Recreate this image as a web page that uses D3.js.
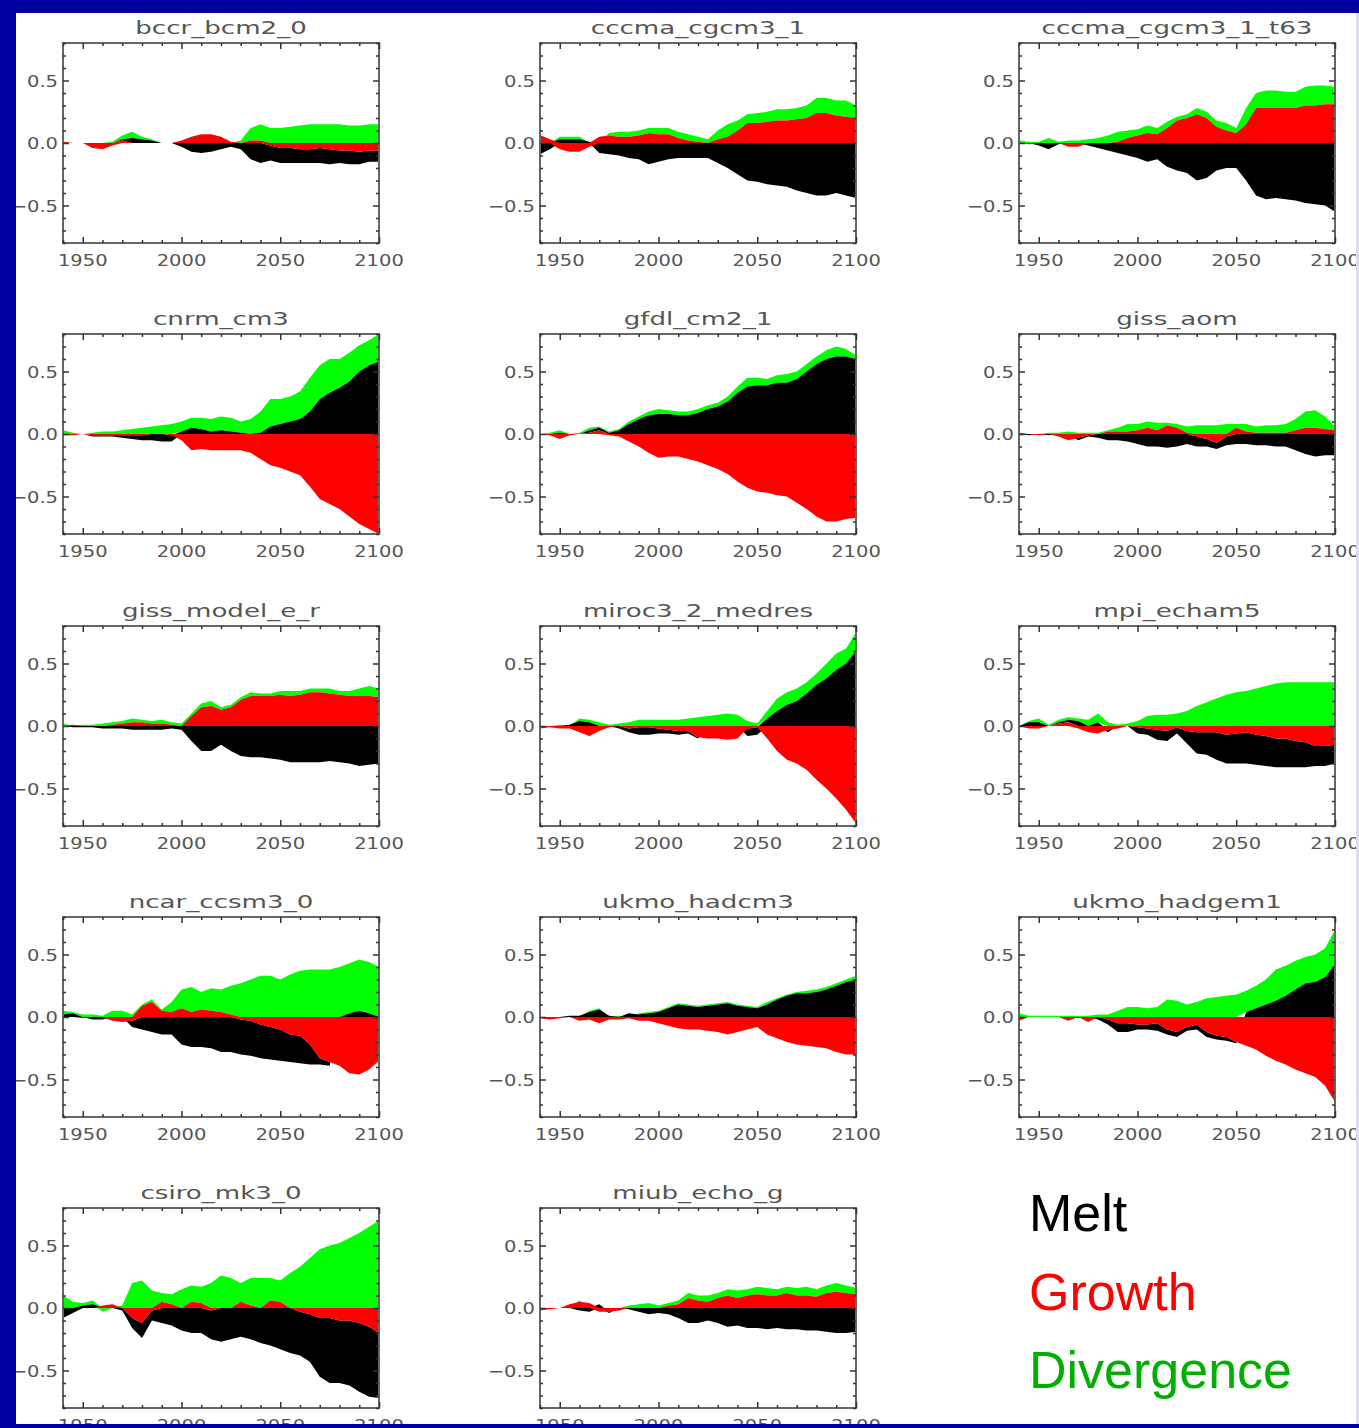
<!DOCTYPE html>
<html lang="en">
<head>
<meta charset="UTF-8">
<title>Ice volume budget terms by model</title>
<style>
  html, body { margin: 0; padding: 0; background: #fff; }
  svg { display: block; }
</style>
</head>
<body>
<svg id="chart"></svg>
<script src="https://d3js.org/d3.v7.min.js"></script>
<script>
const W = 1359, H = 1428;

// one panel per model, read left to right, top to bottom
const models = [
  "bccr_bcm2_0", "cccma_cgcm3_1", "cccma_cgcm3_1_t63",
  "cnrm_cm3", "gfdl_cm2_1", "giss_aom",
  "giss_model_e_r", "miroc3_2_medres", "mpi_echam5",
  "ncar_ccsm3_0", "ukmo_hadcm3", "ukmo_hadgem1",
  "csiro_mk3_0", "miub_echo_g"
];

const years = [1940, 1945, 1950, 1955, 1960, 1965, 1970, 1975, 1980, 1985, 1990,
  1995, 2000, 2005, 2010, 2015, 2020, 2025, 2030, 2035, 2040, 2045, 2050,
  2055, 2060, 2065, 2070, 2075, 2080, 2085, 2090, 2095, 2100];

// band thickness of each term, same order as models
const growth = [
  [0.01,0,0,-0.04,-0.05,-0.02,0.02,0,0,0,0,0,0.02,0.05,0.07,0.07,0.05,0.01,0,0.02,0.02,-0.02,-0.04,-0.04,-0.05,-0.05,-0.04,-0.05,-0.06,-0.06,-0.07,-0.06,-0.06],
  [0.065,0.03,-0.05,-0.07,-0.07,-0.03,0.05,0.06,0.05,0.05,0.06,0.08,0.07,0.07,0.04,0.02,0.01,0,0.03,0.05,0.1,0.16,0.16,0.17,0.18,0.18,0.19,0.2,0.24,0.24,0.22,0.21,0.2],
  [0,-0.01,0,0,0,-0.03,-0.03,0,0,0,0.01,0.04,0.06,0.08,0.07,0.12,0.18,0.2,0.23,0.2,0.13,0.1,0.08,0.15,0.28,0.28,0.28,0.28,0.28,0.3,0.3,0.31,0.31],
  [-0.01,-0.01,0,-0.01,-0.01,-0.01,-0.01,-0.01,-0.01,0,0,-0.01,-0.05,-0.13,-0.12,-0.13,-0.13,-0.13,-0.13,-0.15,-0.2,-0.25,-0.27,-0.3,-0.33,-0.42,-0.52,-0.56,-0.6,-0.66,-0.72,-0.76,-0.8],
  [0,-0.01,-0.04,-0.01,0,0.01,0.03,-0.01,-0.02,-0.06,-0.1,-0.15,-0.19,-0.18,-0.18,-0.2,-0.22,-0.25,-0.28,-0.32,-0.38,-0.43,-0.46,-0.47,-0.49,-0.5,-0.55,-0.6,-0.66,-0.7,-0.7,-0.68,-0.67],
  [0.01,0,-0.01,0,-0.02,-0.05,-0.03,-0.01,0,0.02,0.02,0.02,0.03,0.05,0.03,0.07,0.05,0.01,-0.02,-0.04,-0.07,-0.02,0.05,0.02,0.01,0.01,0.01,0.01,0.03,0.05,0.05,0.04,0.03],
  [0,0.01,0,0,0,0.01,0.02,0.03,0.03,0.02,0.02,0.01,0,0.08,0.15,0.16,0.13,0.15,0.21,0.24,0.24,0.24,0.25,0.24,0.25,0.27,0.27,0.26,0.25,0.24,0.24,0.24,0.23],
  [-0.02,-0.01,-0.02,-0.02,-0.05,-0.08,-0.04,-0.01,0,-0.02,-0.01,-0.01,-0.02,-0.03,-0.04,-0.04,-0.09,-0.1,-0.1,-0.11,-0.1,-0.02,-0.01,-0.1,-0.2,-0.27,-0.3,-0.35,-0.43,-0.5,-0.58,-0.67,-0.78],
  [0,-0.02,-0.02,0,0.02,0.03,-0.02,-0.05,-0.06,-0.03,-0.02,0,-0.01,-0.02,-0.03,-0.04,-0.01,-0.04,-0.05,-0.05,-0.05,-0.07,-0.06,-0.05,-0.07,-0.08,-0.1,-0.1,-0.12,-0.13,-0.16,-0.16,-0.15],
  [0,0,-0.01,0,0,-0.03,-0.04,-0.03,0.09,0.12,0.05,0.04,0.07,0.04,0.06,0.05,0.04,0.02,-0.02,-0.03,-0.06,-0.08,-0.1,-0.14,-0.15,-0.22,-0.33,-0.36,-0.39,-0.45,-0.46,-0.42,-0.35],
  [-0.01,-0.02,-0.01,0,-0.03,-0.02,-0.05,-0.02,-0.02,-0.01,-0.03,-0.03,-0.05,-0.07,-0.09,-0.1,-0.1,-0.11,-0.12,-0.14,-0.12,-0.1,-0.08,-0.14,-0.17,-0.2,-0.22,-0.23,-0.24,-0.25,-0.28,-0.3,-0.3],
  [-0.03,0,0,0,0,-0.03,0,-0.04,0,-0.02,-0.05,-0.05,-0.06,-0.06,-0.05,-0.1,-0.12,-0.08,-0.06,-0.12,-0.15,-0.16,-0.2,-0.23,-0.26,-0.31,-0.35,-0.38,-0.42,-0.45,-0.48,-0.55,-0.68],
  [0,0,0,0,0.02,0.03,0,-0.08,-0.12,-0.02,0.05,0.03,0,0.05,0.04,-0.02,0,0,0.05,0.02,0,0.06,0.05,0,-0.03,-0.05,-0.08,-0.08,-0.1,-0.1,-0.12,-0.15,-0.2],
  [-0.02,-0.01,0,0.03,0.05,0.04,-0.03,-0.03,-0.02,0,0,0,0,0.02,0.03,0.08,0.06,0.05,0.08,0.1,0.08,0.1,0.11,0.1,0.1,0.12,0.1,0.1,0.09,0.12,0.13,0.12,0.11]
];

const melt = [
  [0,0,0,0,0,0,0.01,0.04,0.03,0.02,0,0,-0.03,-0.07,-0.08,-0.07,-0.05,-0.03,-0.05,-0.13,-0.16,-0.12,-0.12,-0.12,-0.11,-0.11,-0.12,-0.12,-0.1,-0.11,-0.1,-0.09,-0.09],
  [-0.09,-0.05,0.03,0.03,0.03,0.01,-0.08,-0.09,-0.1,-0.12,-0.13,-0.17,-0.15,-0.13,-0.12,-0.12,-0.12,-0.12,-0.16,-0.2,-0.25,-0.3,-0.31,-0.33,-0.34,-0.35,-0.38,-0.4,-0.42,-0.42,-0.4,-0.42,-0.44],
  [0,0,-0.02,-0.05,-0.01,0,0,-0.02,-0.04,-0.06,-0.08,-0.1,-0.12,-0.15,-0.13,-0.19,-0.22,-0.24,-0.3,-0.28,-0.22,-0.2,-0.2,-0.3,-0.42,-0.45,-0.44,-0.45,-0.46,-0.48,-0.49,-0.5,-0.55],
  [0,0,0,-0.01,-0.01,-0.01,-0.02,-0.03,-0.04,-0.05,-0.06,-0.05,0.02,0.05,0.04,0.02,0.03,0.02,0.01,0,0.01,0.06,0.08,0.1,0.12,0.18,0.28,0.33,0.37,0.42,0.5,0.55,0.58],
  [0,0,0.01,0,0,0.02,0.02,0.01,0.03,0.08,0.12,0.15,0.16,0.16,0.15,0.15,0.17,0.2,0.22,0.26,0.33,0.38,0.39,0.39,0.41,0.41,0.44,0.5,0.56,0.6,0.62,0.62,0.6],
  [0,-0.01,0,-0.01,0,0,-0.02,-0.01,-0.03,-0.05,-0.05,-0.06,-0.08,-0.1,-0.1,-0.11,-0.1,-0.08,-0.08,-0.06,-0.05,-0.07,-0.08,-0.08,-0.09,-0.09,-0.1,-0.1,-0.13,-0.16,-0.18,-0.17,-0.17],
  [0,-0.01,-0.01,-0.01,-0.02,-0.02,-0.02,-0.03,-0.03,-0.03,-0.03,-0.02,-0.03,-0.12,-0.2,-0.2,-0.15,-0.2,-0.24,-0.25,-0.25,-0.26,-0.27,-0.29,-0.29,-0.29,-0.29,-0.28,-0.29,-0.3,-0.32,-0.31,-0.3],
  [0,0,0,0.01,0.04,0.03,0,0,-0.02,-0.03,-0.06,-0.06,-0.04,-0.03,-0.03,-0.02,-0.01,0,0,0,0,-0.06,-0.06,0.06,0.12,0.17,0.2,0.26,0.33,0.38,0.45,0.5,0.6],
  [0,0.03,0.03,0,0.01,0.02,0.04,0,0.03,-0.02,0,0,-0.05,-0.05,-0.08,-0.08,-0.05,-0.1,-0.17,-0.18,-0.22,-0.23,-0.24,-0.25,-0.24,-0.24,-0.23,-0.23,-0.21,-0.2,-0.16,-0.16,-0.15],
  [0.02,0.03,0,-0.02,-0.02,0,0,-0.05,-0.1,-0.12,-0.14,-0.14,-0.22,-0.24,-0.24,-0.25,-0.28,-0.28,-0.28,-0.28,-0.27,-0.26,-0.25,-0.22,-0.22,-0.16,-0.05,-0.03,0,0.03,0.05,0.03,0],
  [0,0,0,0.01,0.01,0.04,0.06,0.01,0,0.03,0.02,0.03,0.04,0.07,0.1,0.09,0.08,0.09,0.1,0.11,0.09,0.08,0.07,0.1,0.14,0.17,0.19,0.19,0.2,0.22,0.25,0.28,0.3],
  [0,0,0,0,0,0,-0.01,0,-0.02,-0.04,-0.07,-0.07,-0.04,-0.04,-0.06,-0.04,-0.04,-0.03,-0.04,-0.04,-0.03,-0.03,-0.01,0.04,0.07,0.1,0.13,0.17,0.22,0.27,0.28,0.32,0.42],
  [-0.08,-0.04,0.02,0.03,0,0,-0.02,-0.08,-0.12,-0.08,-0.12,-0.14,-0.18,-0.2,-0.2,-0.23,-0.27,-0.25,-0.23,-0.25,-0.28,-0.3,-0.33,-0.36,-0.35,-0.38,-0.47,-0.52,-0.5,-0.52,-0.55,-0.56,-0.52],
  [0,0,0,0,-0.02,-0.03,0.03,-0.01,0,-0.01,-0.03,-0.05,-0.04,-0.05,-0.08,-0.12,-0.12,-0.1,-0.12,-0.15,-0.14,-0.16,-0.16,-0.17,-0.16,-0.17,-0.17,-0.18,-0.18,-0.19,-0.2,-0.2,-0.19]
];

const divergence = [
  [0,0,0,0,0,0.01,0.03,0.05,0.02,0.01,0,0,0,0,0,0,0,0,0.02,0.1,0.13,0.12,0.12,0.13,0.14,0.15,0.15,0.15,0.15,0.14,0.14,0.15,0.15],
  [0,0,0.02,0.02,0.02,0,0,0.02,0.04,0.04,0.04,0.04,0.05,0.05,0.05,0.05,0.04,0.03,0.07,0.1,0.08,0.07,0.08,0.08,0.09,0.09,0.09,0.1,0.12,0.12,0.12,0.13,0.1],
  [0.02,0.01,0.01,0.04,0.01,0.02,0.02,0.03,0.04,0.06,0.08,0.06,0.05,0.06,0.05,0.05,0.03,0.03,0.05,0.05,0.05,0.06,0.04,0.13,0.12,0.14,0.14,0.13,0.13,0.15,0.16,0.15,0.14],
  [0.03,0.01,0,0.01,0.02,0.02,0.03,0.04,0.05,0.06,0.07,0.08,0.08,0.08,0.09,0.1,0.11,0.11,0.09,0.12,0.17,0.22,0.2,0.2,0.22,0.27,0.27,0.27,0.23,0.23,0.21,0.2,0.22],
  [0,0.01,0.02,0,0.01,0.02,0.01,0.01,0.01,0.02,0.02,0.03,0.04,0.03,0.03,0.03,0.03,0.03,0.03,0.04,0.05,0.07,0.06,0.05,0.06,0.07,0.06,0.06,0.06,0.07,0.08,0.06,0.03],
  [0,0,0,0.01,0.01,0.02,0.01,0.01,0.01,0.01,0.03,0.06,0.05,0.05,0.06,0.02,0.03,0.05,0.07,0.07,0.07,0.08,0.03,0.06,0.05,0.06,0.06,0.07,0.09,0.13,0.14,0.1,0.03],
  [0.02,0,0.01,0.01,0.02,0.02,0.02,0.03,0.02,0.02,0.03,0.02,0.02,0.02,0.03,0.04,0.02,0.02,0.02,0.03,0.02,0.02,0.03,0.04,0.03,0.03,0.03,0.04,0.03,0.04,0.06,0.08,0.07],
  [0,0,0.01,0,0.02,0.02,0.03,0.01,0.02,0.03,0.05,0.05,0.05,0.05,0.05,0.06,0.07,0.08,0.09,0.1,0.09,0.04,0.02,0.06,0.1,0.1,0.1,0.09,0.09,0.12,0.13,0.12,0.15],
  [0,0.01,0.03,0.01,0.02,0.02,0.02,0.05,0.07,0.03,0.01,0.02,0.04,0.08,0.09,0.09,0.1,0.12,0.16,0.19,0.22,0.25,0.27,0.28,0.3,0.32,0.34,0.35,0.35,0.35,0.35,0.35,0.35],
  [0.03,0.01,0.02,0.02,0.01,0.05,0.05,0.02,0.01,0.02,0.01,0.08,0.15,0.2,0.14,0.18,0.18,0.23,0.27,0.3,0.33,0.33,0.3,0.34,0.37,0.38,0.38,0.38,0.4,0.4,0.41,0.41,0.4],
  [0,0,0,0,0,0.01,0.01,0,0.01,0,0.01,0.01,0.01,0.01,0.01,0.01,0.01,0.01,0.01,0.01,0.01,0.01,0.01,0.02,0.01,0.01,0.01,0.02,0.02,0.02,0.02,0.02,0.03],
  [0.03,0.01,0.01,0.01,0.01,0.01,0.01,0.01,0.02,0.02,0.05,0.08,0.08,0.07,0.08,0.14,0.13,0.1,0.12,0.15,0.16,0.17,0.18,0.17,0.18,0.2,0.25,0.24,0.23,0.21,0.22,0.23,0.28],
  [0.1,0.05,0.02,0.03,-0.03,0,0.02,0.2,0.22,0.14,0.07,0.08,0.15,0.13,0.13,0.2,0.26,0.24,0.15,0.22,0.24,0.18,0.17,0.28,0.33,0.4,0.47,0.5,0.52,0.56,0.6,0.65,0.7],
  [0,0,0,0,0.01,0,0,0,0,0.02,0.03,0.04,0.02,0.02,0.03,0.04,0.04,0.05,0.04,0.05,0.06,0.05,0.06,0.06,0.05,0.05,0.06,0.07,0.06,0.06,0.07,0.06,0.05]
];

const terms = ["growth", "melt", "divergence"];
const termColor = { growth: "#ff0000", melt: "#000000", divergence: "#00ff00" };
const xMajor = [1950, 2000, 2050, 2100];
const xMinor = [1940, 1960, 1970, 1980, 1990, 2010, 2020, 2030, 2040, 2060, 2070, 2080, 2090];
const yMajor = [-0.5, 0, 0.5];
const yMinor = [-0.8, -0.7, -0.6, -0.4, -0.3, -0.2, -0.1, 0.1, 0.2, 0.3, 0.4, 0.6, 0.7, 0.8];
const yLabels = ["\u22120.5", "0.0", "0.5"];
const legendItems = [
  { name: "Melt", color: "#000000" },
  { name: "Growth", color: "#ff0000" },
  { name: "Divergence", color: "#00b000" }
];

const colX = [63, 540, 1019];
const rowY = [43, 334, 626, 917, 1208];
const PW = 316, PH = 200;
const FONT = "'DejaVu Sans', sans-serif";

const svg = d3.select("#chart").attr("width", W).attr("height", H);
svg.append("rect").attr("width", W).attr("height", H).attr("fill", "#fff");

const x = d3.scaleLinear().domain([1940, 2100]).range([0, PW]);
const y = d3.scaleLinear().domain([-0.8, 0.8]).range([PH, 0]);

const stack = d3.stack().keys(terms).offset(d3.stackOffsetDiverging);
const area = d3.area()
  .x(d => x(d.data.year))
  .y0(d => y(d[0]))
  .y1(d => y(d[1]));

function ticks(g, axisFn, values, size, transform) {
  g.append("g").attr("transform", transform)
    .call(axisFn.tickValues(values).tickSize(size).tickFormat(""))
    .call(a => a.select(".domain").remove())
    .selectAll("line").attr("stroke", "#333").attr("stroke-width", 1.5);
}

models.forEach((name, i) => {
  const g = svg.append("g")
    .attr("transform", `translate(${colX[i % 3]},${rowY[Math.floor(i / 3)]})`);

  const rows = years.map((yr, j) => ({
    year: yr, growth: growth[i][j], melt: melt[i][j], divergence: divergence[i][j]
  }));

  // growth painted last so sign flips of melt tuck underneath it
  g.selectAll("path.band")
    .data(stack(rows).reverse())
    .join("path")
    .attr("class", "band")
    .attr("fill", s => termColor[s.key])
    .attr("d", area);

  // frame and inward ticks on all four sides
  g.append("rect").attr("width", PW).attr("height", PH)
    .attr("fill", "none").attr("stroke", "#666").attr("stroke-width", 2);

  ticks(g, d3.axisBottom(x), xMajor, -6, `translate(0,${PH})`);
  ticks(g, d3.axisBottom(x), xMinor, -3, `translate(0,${PH})`);
  ticks(g, d3.axisTop(x), xMajor, -6, "translate(0,0)");
  ticks(g, d3.axisTop(x), xMinor, -3, "translate(0,0)");
  ticks(g, d3.axisLeft(y), yMajor, -6, "translate(0,0)");
  ticks(g, d3.axisLeft(y), yMinor, -3, "translate(0,0)");
  ticks(g, d3.axisRight(y), yMajor, -6, `translate(${PW},0)`);
  ticks(g, d3.axisRight(y), yMinor, -3, `translate(${PW},0)`);

  g.selectAll("text.xl").data(xMajor).join("text")
    .attr("class", "xl")
    .attr("transform", v => `translate(${x(v)},${PH + 23}) scale(1.22,1)`)
    .attr("text-anchor", "middle")
    .attr("font-family", FONT).attr("font-size", 16).attr("fill", "#555")
    .text(v => v);

  g.selectAll("text.yl").data(yMajor).join("text")
    .attr("class", "yl")
    .attr("transform", v => `translate(-5,${y(v) + 6}) scale(1.22,1)`)
    .attr("text-anchor", "end")
    .attr("font-family", FONT).attr("font-size", 16).attr("fill", "#555")
    .text((v, k) => yLabels[k]);

  g.append("text")
    .attr("transform", `translate(${PW / 2},-9) scale(1.45,1)`)
    .attr("text-anchor", "middle")
    .attr("font-family", FONT).attr("font-size", 18).attr("fill", "#555")
    .text(name);
});

// legend
svg.selectAll("text.legend").data(legendItems).join("text")
  .attr("class", "legend")
  .attr("x", 1029)
  .attr("y", (d, k) => 1231 + k * 78.5)
  .attr("font-family", "'Liberation Sans', Arial, sans-serif")
  .attr("font-size", 52)
  .attr("fill", d => d.color)
  .text(d => d.name);

// slide frame drawn last so it clips the edge labels, as in the original
const frame = svg.append("g");
frame.append("rect").attr("x", 1356).attr("y", 0).attr("width", 3).attr("height", H).attr("fill", "#dcdcf0");
frame.append("rect").attr("x", 0).attr("y", 0).attr("width", W).attr("height", 13).attr("fill", "#0000a0");
frame.append("rect").attr("x", 0).attr("y", 0).attr("width", 16).attr("height", H).attr("fill", "#0000a0");
frame.append("rect").attr("x", 0).attr("y", 1424).attr("width", W).attr("height", 4).attr("fill", "#0000a0");
</script>
</body>
</html>
